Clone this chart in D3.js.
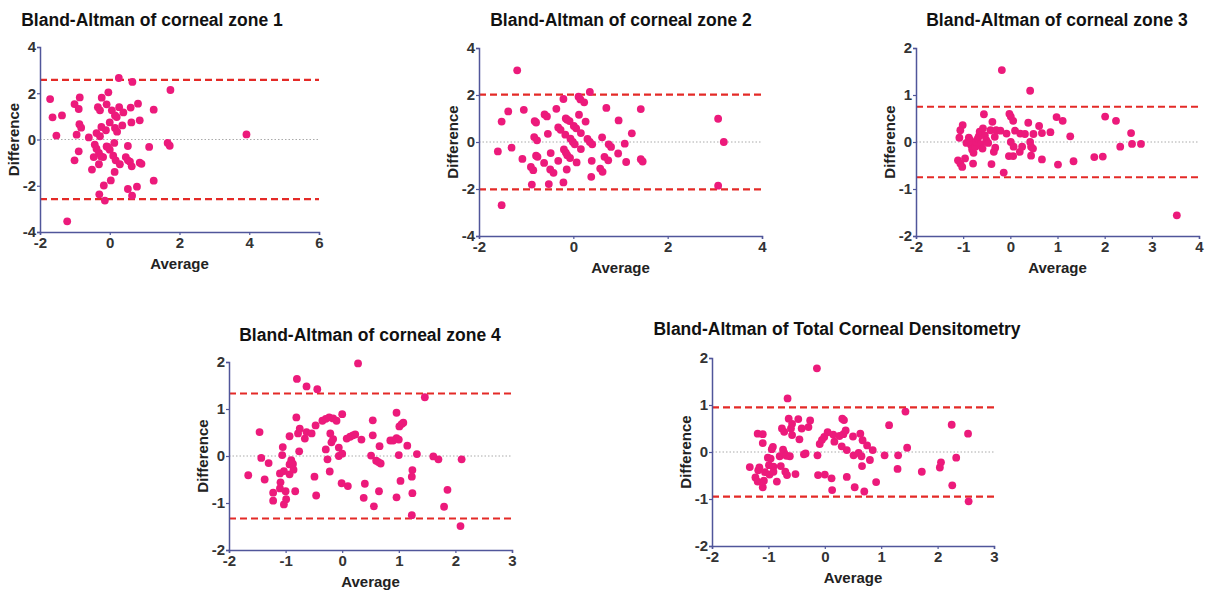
<!DOCTYPE html>
<html>
<head>
<meta charset="utf-8">
<script src="https://cdnjs.cloudflare.com/ajax/libs/d3/7.8.5/d3.min.js"></script>
<style>
  body { margin: 0; background: #fff; }
  svg { font-family: "Liberation Sans", Arial, sans-serif; }
  .title { font-size: 17.5px; font-weight: bold; fill: #111; }
  .lab { font-size: 15px; font-weight: bold; fill: #222; }
</style>
</head>
<body>
<svg width="1209" height="590"></svg>
<script>
// [average, difference] pairs
const zone1 = [
  [-1.71,1.75],[-1.64,0.96],[-1.37,1.04],[-1.53,0.17],[-1.01,1.53],[-0.86,1.82],[-0.89,1.32],
  [-0.87,0.66],[-0.82,0.51],[-0.95,0.21],[-0.89,-0.51],[-1.01,-0.90],[-1.22,-3.54],[-0.60,0.09],
  [-0.51,-1.30],[-0.46,-0.76],[-0.38,0.28],[-0.34,1.40],[-0.28,1.26],[-0.23,1.81],[-0.24,0.54],
  [-0.28,0.14],[-0.43,-0.22],[-0.38,-0.40],[-0.31,-0.58],[-0.25,-0.73],[-0.19,-0.76],[-0.31,-1.07],
  [-0.30,-2.37],[-0.17,-1.99],[-0.14,-2.64],[-0.09,1.52],[-0.04,2.04],[-0.11,0.40],[0.00,0.74],
  [-0.09,-0.30],[0.00,-0.44],[-0.06,-0.32],[0.03,-1.77],[0.06,1.26],[0.15,1.04],[0.20,0.97],
  [0.13,-0.15],[0.15,0.50],[0.21,0.34],[0.10,-0.70],[0.17,-0.90],[0.14,-1.40],[0.26,2.66],
  [0.27,1.40],[0.39,1.17],[0.36,0.61],[0.29,-1.07],[0.52,-0.28],[0.46,-0.76],[0.52,-0.90],
  [0.58,-0.96],[0.63,-1.16],[0.52,-2.14],[0.64,-2.43],[0.78,-2.04],[0.65,2.49],[0.60,1.38],
  [0.62,0.74],[0.81,1.55],[0.86,0.83],[0.86,-1.00],[0.91,-1.05],[1.13,-0.32],[1.26,1.29],
  [1.26,-1.78],[1.66,-0.15],[1.72,-0.27],[1.74,2.14],[3.92,0.22]
];
const zone2 = [
  [-1.19,3.05],[-1.60,-0.40],[-1.52,0.87],[-1.38,1.30],[-1.31,-0.24],[-1.52,-2.69],[-1.05,1.37],
  [-1.08,-0.72],[-0.90,-1.06],[-0.85,-1.20],[-0.88,-1.81],[-0.82,0.89],[-0.79,0.83],[-0.83,0.21],
  [-0.77,0.07],[-0.79,-0.58],[-0.76,-0.63],[-0.61,1.17],[-0.56,1.09],[-0.54,0.35],[-0.62,-0.89],
  [-0.48,-0.47],[-0.49,-1.17],[-0.42,-1.31],[-0.52,-1.79],[-0.36,1.41],[-0.32,0.62],[-0.27,0.52],
  [-0.32,-0.80],[-0.21,1.83],[-0.21,-1.72],[-0.20,-0.32],[-0.16,-0.45],[-0.13,-0.56],[-0.07,-0.68],
  [-0.17,0.31],[-0.14,-1.17],[-0.16,1.00],[-0.13,0.95],[-0.08,0.89],[-0.06,0.14],[-0.01,0.00],
  [0.03,-0.10],[0.01,0.68],[0.06,0.58],[0.07,-0.87],[0.11,1.93],[0.15,1.81],[0.23,1.69],
  [0.12,1.16],[0.16,0.38],[0.16,-0.30],[0.26,0.87],[0.35,2.13],[0.30,0.13],[0.35,0.00],
  [0.40,-0.10],[0.39,-0.80],[0.38,-1.48],[0.61,0.20],[0.57,-1.13],[0.62,-1.27],[0.66,-0.63],
  [0.70,1.45],[0.74,-0.78],[0.75,-0.10],[0.80,-0.21],[0.96,0.92],[0.95,-0.49],[1.09,-0.07],
  [1.12,-0.85],[1.24,0.37],[1.43,1.40],[1.43,-0.73],[1.47,-0.83],[3.07,0.99],[3.19,0.00],[3.07,-1.86]
];
const zone3 = [
  [-0.18,1.53],[0.42,1.09],[3.53,-1.56],[-0.14,-0.65],[-1.01,0.36],[-1.06,0.25],[-1.08,0.09],
  [-1.11,-0.39],[-1.06,-0.46],[-1.02,-0.53],[-0.96,-0.35],[-0.93,-0.02],[-0.88,0.09],[-0.85,0.04],
  [-0.83,-0.07],[-0.81,-0.16],[-0.79,-0.46],[-0.78,-0.23],[-0.74,-0.10],[-0.72,0.00],[-0.69,0.07],
  [-0.67,0.12],[-0.65,0.22],[-0.62,-0.05],[-0.59,-0.14],[-0.56,0.59],[-0.58,0.29],[-0.54,0.14],
  [-0.51,0.04],[-0.47,-0.02],[-0.42,0.25],[-0.38,0.43],[-0.40,-0.47],[-0.35,-0.21],[-0.32,-0.12],
  [-0.33,0.11],[-0.30,0.25],[-0.21,0.24],[-0.08,0.18],[-0.02,0.60],[0.01,0.54],[0.06,0.45],
  [-0.03,-0.30],[0.06,-0.30],[0.01,0.00],[0.07,-0.10],[0.10,0.24],[0.21,0.18],[0.20,-0.21],
  [0.25,-0.10],[0.31,0.17],[0.38,0.41],[0.42,0.00],[0.44,-0.10],[0.44,-0.29],[0.48,-0.14],
  [0.49,0.17],[0.61,0.34],[0.67,0.19],[0.67,-0.37],[0.85,0.21],[0.98,0.53],[1.01,-0.48],
  [1.11,0.45],[1.27,0.12],[1.34,-0.41],[1.78,-0.32],[1.96,-0.31],[2.01,0.54],[2.24,0.45],
  [2.33,-0.10],[2.56,0.19],[2.58,-0.04],[2.77,-0.04]
];
const zone4 = [
  [0.28,1.97],[-0.80,1.64],[-0.63,1.48],[-0.44,1.42],[1.46,1.25],[-1.66,-0.41],[-1.46,0.51],
  [-1.43,-0.04],[-1.37,-0.50],[-1.30,-0.15],[-1.22,-0.78],[-1.22,-0.95],[-1.10,-0.37],[-1.09,-0.56],
  [-1.10,-0.69],[-1.05,0.19],[-1.06,0.02],[-1.03,-0.32],[-1.03,-1.03],[-1.00,-0.75],[-0.99,-0.92],
  [-0.93,0.42],[-0.93,-0.18],[-0.93,-0.39],[-0.90,-0.09],[-0.87,-0.17],[-0.86,-0.29],[-0.83,-0.75],
  [-0.81,0.82],[-0.78,0.48],[-0.75,0.58],[-0.76,0.10],[-0.66,0.37],[-0.63,0.51],[-0.54,0.48],
  [-0.49,-0.44],[-0.47,0.65],[-0.46,-0.84],[-0.35,0.75],[-0.29,0.79],[-0.23,0.82],[-0.16,0.80],
  [-0.10,0.75],[-0.29,0.14],[-0.26,-0.07],[-0.21,0.48],[-0.19,0.29],[-0.16,0.36],[-0.22,-0.33],
  [-0.06,0.00],[-0.06,0.18],[0.00,0.89],[0.00,0.05],[-0.01,-0.58],[0.10,-0.64],[0.08,0.37],
  [0.14,0.41],[0.19,0.44],[0.23,0.46],[0.34,0.35],[0.40,-0.59],[0.38,-0.89],[0.51,0.01],
  [0.54,0.76],[0.54,0.44],[0.56,-1.07],[0.60,-0.10],[0.64,-0.13],[0.66,0.21],[0.68,-0.16],
  [0.65,-0.75],[0.85,0.33],[0.90,0.33],[0.96,0.38],[1.00,0.35],[0.96,0.92],[1.01,0.63],
  [1.05,0.68],[1.08,0.71],[1.00,0.02],[0.96,-0.88],[1.03,-0.53],[1.15,0.22],[1.24,-0.30],
  [1.23,-0.44],[1.24,-0.79],[1.23,-1.26],[1.32,0.04],[1.61,-0.01],[1.70,-0.07],[1.80,-1.08],
  [1.86,-0.72],[2.09,-1.49],[2.11,-0.07]
];
const total = [
  [-0.14,1.78],[-0.66,1.14],[1.43,0.86],[-1.33,-0.32],[-1.23,-0.54],[-1.19,-0.63],[-1.18,-0.39],
  [-1.19,0.39],[-1.10,0.38],[-1.16,-0.33],[-1.10,0.19],[-1.10,-0.75],[-1.08,-0.61],[-1.06,-0.43],
  [-1.01,-0.12],[-0.99,-0.28],[-0.98,-0.48],[-0.96,-0.14],[-0.94,0.06],[-0.92,0.11],[-0.91,-0.31],
  [-0.91,-0.42],[-0.85,-0.63],[-0.80,-0.09],[-0.78,-0.30],[-0.76,0.50],[-0.74,0.05],[-0.72,-0.02],
  [-0.72,0.43],[-0.70,-0.42],[-0.68,-0.08],[-0.67,-0.49],[-0.64,0.71],[-0.62,-0.09],[-0.60,0.50],
  [-0.58,0.60],[-0.58,0.36],[-0.52,-0.47],[-0.47,0.70],[-0.45,0.27],[-0.41,0.50],[-0.37,-0.05],
  [-0.34,-0.03],[-0.29,0.53],[-0.26,0.67],[-0.13,-0.07],[-0.12,-0.49],[-0.09,0.17],[-0.05,0.26],
  [-0.01,0.32],[0.00,-0.48],[0.05,0.42],[0.12,-0.56],[0.13,-0.81],[0.15,0.37],[0.17,0.22],
  [0.26,0.34],[0.30,0.12],[0.31,0.71],[0.34,0.68],[0.33,0.38],[0.37,0.46],[0.39,0.04],
  [0.39,-0.53],[0.50,0.33],[0.51,-0.07],[0.53,-0.75],[0.60,-0.02],[0.63,0.39],[0.65,-0.09],
  [0.66,-0.30],[0.67,0.25],[0.70,-0.84],[0.75,0.14],[0.80,-0.17],[0.85,0.04],[0.91,-0.64],
  [1.06,-0.07],[1.14,0.57],[1.30,-0.07],[1.29,-0.36],[1.46,0.09],[1.72,-0.42],[2.04,-0.33],
  [2.06,-0.22],[2.25,0.58],[2.33,-0.12],[2.26,-0.71],[2.54,0.39],[2.55,-1.05]
];

const titles = ["Bland-Altman of corneal zone 1", "Bland-Altman of corneal zone 2",
  "Bland-Altman of corneal zone 3", "Bland-Altman of corneal zone 4",
  "Bland-Altman of Total Corneal Densitometry"];
const datasets = [zone1, zone2, zone3, zone4, total];
const xDomains = [[-2, 6], [-2, 4], [-2, 4], [-2, 3], [-2, 3]];
const yDomains = [[-4, 4], [-4, 4], [-2, 2], [-2, 2], [-2, 2]];
const xTicks = [[-2, 0, 2, 4, 6], [-2, 0, 2, 4], [-2, -1, 0, 1, 2, 3, 4], [-2, -1, 0, 1, 2, 3], [-2, -1, 0, 1, 2, 3]];
const yTicks = [[-4, -2, 0, 2, 4], [-4, -2, 0, 2, 4], [-2, -1, 0, 1, 2], [-2, -1, 0, 1, 2], [-2, -1, 0, 1, 2]];
const limits = [2.58, 2.02, 0.75, 1.33, 0.95];  // upper / lower limits of agreement (±)

// panel boxes in pixels: left, top, right, bottom, title centre x, title baseline
const boxes = [
  [40, 47, 319, 232, 152, 26],
  [479, 48, 762, 236, 621, 26],
  [916, 48, 1199, 236, 1057, 26],
  [229, 362, 512, 550, 370, 341],
  [712, 358, 994, 546, 837, 335]
];

const svg = d3.select('svg');
const axisColor = '#50569a';

datasets.forEach((data, i) => {
  const [l, t, r, b, tx, ty] = boxes[i];
  const x = d3.scaleLinear().domain(xDomains[i]).range([l, r]);
  const y = d3.scaleLinear().domain(yDomains[i]).range([b, t]);
  const g = svg.append('g');

  g.append('text').attr('class', 'title')
    .attr('x', tx).attr('y', ty).attr('text-anchor', 'middle').text(titles[i]);

  // zero line
  g.append('line')
    .attr('x1', l).attr('x2', r).attr('y1', y(0)).attr('y2', y(0))
    .attr('stroke', '#aaa').attr('stroke-width', 1).attr('stroke-dasharray', '1.5,2');

  // limits of agreement
  [limits[i], -limits[i]].forEach(v => {
    g.append('line')
      .attr('x1', l).attr('x2', r).attr('y1', y(v)).attr('y2', y(v))
      .attr('stroke', '#e42a27').attr('stroke-width', 2.2).attr('stroke-dasharray', '7,4');
  });

  g.selectAll('circle').data(data).enter().append('circle')
    .attr('cx', d => x(d[0])).attr('cy', d => y(d[1])).attr('r', 3.9)
    .attr('fill', '#ec1a7b');

  const xa = g.append('g').attr('transform', `translate(0,${b})`)
    .call(d3.axisBottom(x).tickValues(xTicks[i]).tickSize(3).tickPadding(2).tickFormat(d3.format('d')));
  const ya = g.append('g').attr('transform', `translate(${l},0)`)
    .call(d3.axisLeft(y).tickValues(yTicks[i]).tickSize(3).tickPadding(1).tickFormat(d3.format('d')));
  [xa, ya].forEach(a => {
    a.attr('font-family', null).attr('font-size', null);
    a.select('.domain').attr('stroke', axisColor).attr('stroke-width', 1.5);
    a.selectAll('.tick line').attr('stroke', axisColor).attr('stroke-width', 1.2);
    a.selectAll('.tick text')
      .style('font-family', '"Liberation Sans", Arial, sans-serif')
      .style('font-size', '15px').style('font-weight', 'bold').style('fill', '#333')
      .text(d => String(d));  // plain hyphen minus like the original
  });

  g.append('text').attr('class', 'lab')
    .attr('x', (l + r) / 2).attr('y', b + 37).attr('text-anchor', 'middle').text('Average');
  g.append('text').attr('class', 'lab')
    .attr('transform', `translate(${l - 21},${(t + b) / 2}) rotate(-90)`)
    .attr('text-anchor', 'middle').text('Difference');
});
</script>
</body>
</html>
